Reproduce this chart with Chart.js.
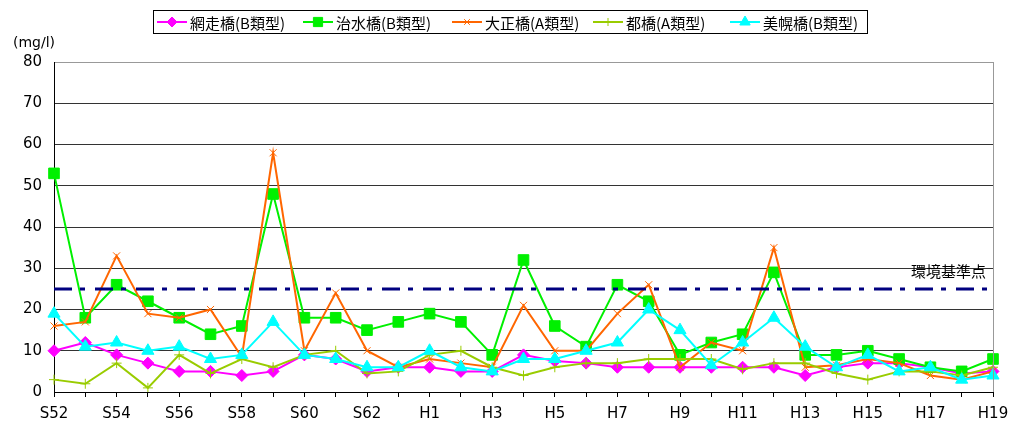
<!DOCTYPE html>
<html>
<head>
<meta charset="utf-8">
<script src="https://cdn.jsdelivr.net/npm/chart.js@4/dist/chart.umd.min.js"></script>
<style>
  body { margin: 0; background: #fff; }
  canvas { display: block; }
</style>
</head>
<body>
<canvas id="bodChart" width="1009" height="426"></canvas>
<script>
/*  Données  */

const years = [
    "S52", "S53", "S54", "S55", "S56", "S57", "S58", "S59", "S60", "S61", "S62", "S63",
    "H1", "H2", "H3", "H4", "H5", "H6", "H7", "H8", "H9", "H10",
    "H11", "H12", "H13", "H14", "H15", "H16", "H17", "H18", "H19"
];

const abashiri = [10, 12, 9, 7, 5, 5, 4, 5, 9, 8, 5, 6, 6, 5, 5, 9, 7.5, 7, 6, 6, 6, 6, 6, 6, 4, 6, 7, 7, 6, 4.5, 5];
const jisui    = [53, 18, 26, 22, 18, 14, 16, 48, 18, 18, 15, 17, 19, 17, 9, 32, 16, 11, 26, 22, 9, 12, 14, 29, 9, 9, 10, 8, 6, 5, 8];
const taisho   = [16, 17, 33, 19, 18, 20, 8.5, 58, 10, 24, 10, 6, 8, 7, 6, 21, 10, 10, 19, 26, 6, 12, 10, 35, 6, 6.5, 8, 7, 4, 3, 5];
const miyako   = [3, 2, 7, 1, 9, 4.5, 8, 6, 9, 10, 4.5, 5, 9, 10, 6, 4, 6, 7, 7, 8, 8, 8, 5.5, 7, 7, 4.5, 3, 5, 5, 4, 6];
const mihoro   = [19, 11, 12, 10, 11, 8, 9, 17, 9, 8, 6, 6, 10, 6, 5, 8, 8, 10, 12, 20, 15, 6.5, 12, 18, 11, 6, 9, 5, 6, 3, 4];

const seriesNames = ["網走橋(B類型)", "治水橋(B類型)", "大正橋(A類型)", "都橋(A類型)", "美幌橋(B類型)"];
const standardValue = 25;
const standardLabel = "環境基準点";
const yTitle = "(mg/l)";


/*  Styles  */

const styles = [
    { color: "#ff00ff", point: "rectRot",  radius: 6,   pw: 1 },
    { color: "#00f000", point: "rect",     radius: 7.5, pw: 1 },
    { color: "#ff6600", point: "crossRot", radius: 5,   pw: 1 },
    { color: "#99cc00", point: "cross",    radius: 5,   pw: 1 },
    { color: "#00ffff", point: "triangle", radius: 7,   pw: 1 }
];

const seriesData = [abashiri, jisui, taisho, miyako, mihoro];

const datasets = seriesData.map((d, i) => ({
    label: seriesNames[i],
    data: d,
    borderColor: styles[i].color,
    backgroundColor: styles[i].color,
    borderWidth: 2,
    pointStyle: styles[i].point,
    pointRadius: styles[i].radius,
    pointBorderWidth: styles[i].pw,
    pointBorderColor: styles[i].color,
    pointBackgroundColor: styles[i].color,
    tension: 0,
    order: 5 - i
}));


/*  Plugin : fond, ligne de référence, légende  */

const decorPlugin = {
    id: "decor",
    beforeDraw(chart) {
        const ctx = chart.ctx;
        ctx.save();
        ctx.fillStyle = "#fff";
        ctx.fillRect(0, 0, chart.width, chart.height);
        ctx.restore();
    },
    afterDatasetsDraw(chart) {
        const ctx = chart.ctx;
        const a = chart.chartArea;
        const y = chart.scales.y.getPixelForValue(standardValue);
        ctx.save();
        ctx.strokeStyle = "#000080";
        ctx.lineWidth = 3;
        ctx.setLineDash([18, 8, 5, 10]);
        ctx.beginPath();
        ctx.moveTo(a.left, y);
        ctx.lineTo(a.right, y);
        ctx.stroke();
        ctx.restore();
    },
    afterDraw(chart) {
        const ctx = chart.ctx;
        const a = chart.chartArea;
        ctx.save();

        // bordure droite
        ctx.strokeStyle = "#999";
        ctx.lineWidth = 1;
        ctx.beginPath();
        ctx.moveTo(a.right + 0.5, a.top);
        ctx.lineTo(a.right + 0.5, a.bottom);
        ctx.stroke();

        // titre axe Y
        ctx.fillStyle = "#000";
        ctx.font = "14px 'DejaVu Sans'";
        ctx.textAlign = "left";
        ctx.textBaseline = "middle";
        ctx.fillText(yTitle, 13, 43);

        // libellé de la ligne
        ctx.font = "15px 'Noto Sans CJK JP'";
        ctx.textAlign = "right";
        ctx.fillText(standardLabel, 986, chart.scales.y.getPixelForValue(standardValue) - 18);

        // légende
        ctx.strokeStyle = "#000";
        ctx.lineWidth = 1;
        ctx.strokeRect(153.5, 10.5, 714, 23);
        const starts = [157, 303, 452, 593, 730];
        const ly = 22;
        ctx.font = "15px 'Noto Sans CJK JP'";
        ctx.textAlign = "left";
        styles.forEach((s, i) => {
            const x0 = starts[i];
            ctx.strokeStyle = s.color;
            ctx.fillStyle = s.color;
            ctx.lineWidth = 2;
            ctx.beginPath();
            ctx.moveTo(x0, ly);
            ctx.lineTo(x0 + 30, ly);
            ctx.stroke();
            ctx.lineWidth = s.pw;
            Chart.helpers.drawPoint(ctx, {
                pointStyle: s.point, radius: s.radius - 1, borderWidth: s.pw, rotation: 0
            }, x0 + 15, ly);
            ctx.fillStyle = "#000";
            ctx.fillText(seriesNames[i], x0 + 33, ly + 1);
        });

        ctx.restore();
    }
};


/*  Graphique  */

new Chart(document.getElementById("bodChart").getContext("2d"), {
    type: "line",
    data: { labels: years, datasets },
    options: {
        responsive: false,
        animation: false,
        layout: { padding: { top: 62, right: 16, left: 0, bottom: 0 } },
        plugins: {
            legend: { display: false },
            tooltip: { enabled: false }
        },
        scales: {
            x: {
                offset: false,
                afterFit: s => { s.height = 34; s.paddingRight = 0; s.paddingLeft = 0; },
                grid: { drawOnChartArea: false, drawTicks: true, tickLength: 5, color: "#000" },
                border: { color: "#000", width: 1 },
                ticks: {
                    autoSkip: false,
                    maxRotation: 0,
                    padding: 8,
                    color: "#000",
                    font: { family: "'DejaVu Sans'", size: 15 },
                    callback: function (val, i) {
                        return i % 2 === 0 ? this.getLabelForValue(val) : "";
                    }
                }
            },
            y: {
                min: 0,
                max: 80,
                afterFit: s => { s.width = 54; },
                grid: {
                    drawTicks: false,
                    color: c => (c.tick && c.tick.value === 80 ? "#999" : "#333")
                },
                border: { color: "#000", width: 1 },
                ticks: {
                    stepSize: 10,
                    padding: 12,
                    color: "#000",
                    font: { family: "'DejaVu Sans'", size: 15 }
                }
            }
        }
    },
    plugins: [decorPlugin]
});
</script>
</body>
</html>
